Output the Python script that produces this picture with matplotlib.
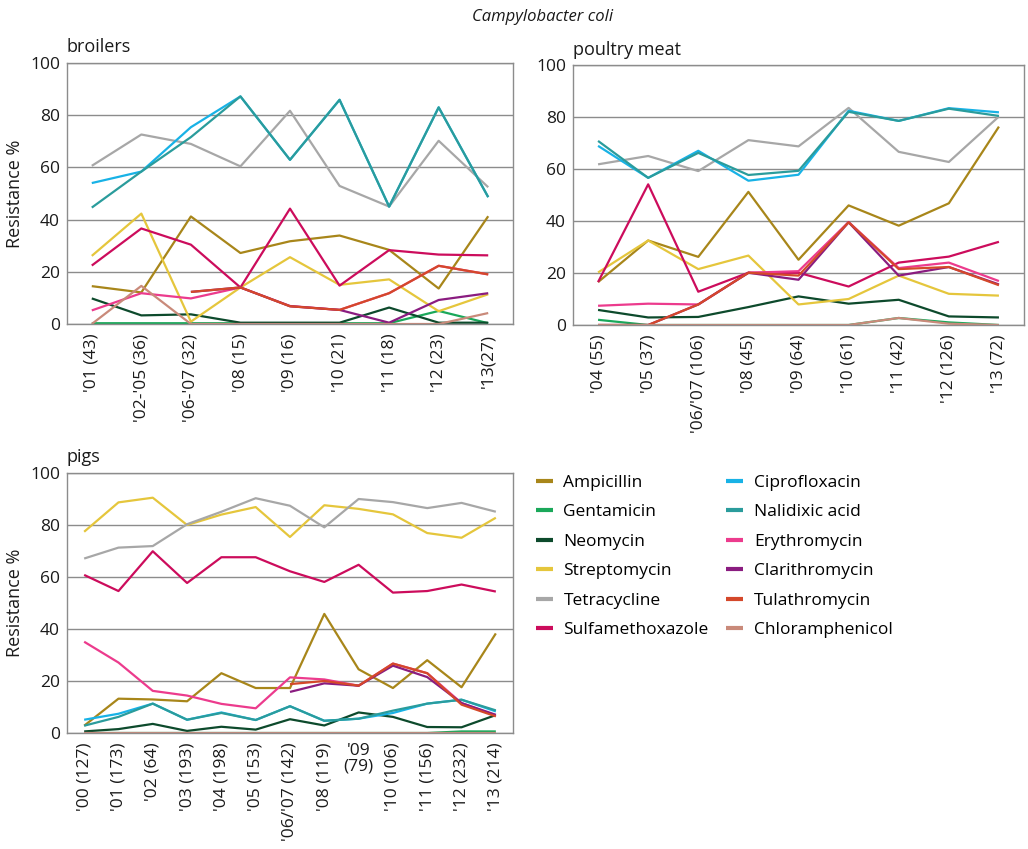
import numpy as np
import matplotlib
matplotlib.use("Agg")
import matplotlib.pyplot as plt

plt.rcParams['font.family'] = ['Open Sans', 'DejaVu Sans']

nan = np.nan

antibiotics = ['Ampicillin', 'Gentamicin', 'Neomycin', 'Streptomycin', 'Tetracycline',
               'Sulfamethoxazole', 'Ciprofloxacin', 'Nalidixic acid', 'Erythromycin',
               'Clarithromycin', 'Tulathromycin', 'Chloramphenicol']
colors = ['#a8861a', '#1aa85a', '#0d4a2c', '#e5c63c', '#a7a7a7', '#cc0c5c',
          '#18b2e6', '#2a9c9c', '#ec3b8d', '#8a1c80', '#d4482a', '#c98a7a']

# broilers
broiler_labels = ["'01 (43)", "'02-'05 (36)", "'06-'07 (32)", "'08 (15)", "'09 (16)",
                  "'10 (21)", "'11 (18)", "'12 (23)", "'13(27)"]
broilers = {
    'Ampicillin':       [14.5, 12.1, 41.2, 27.2, 31.7, 33.9, 28.4, 13.6, 41.3],
    'Gentamicin':       [0.3, 0.3, 0.3, 0.3, 0.3, 0.3, 0.3, 5.0, 0.3],
    'Neomycin':         [9.8, 3.3, 3.7, 0.5, 0.5, 0.5, 6.3, 0.5, 0.5],
    'Streptomycin':     [26.1, 42.3, 0.9, 14.0, 25.6, 15.0, 17.1, 4.9, 11.4],
    'Tetracycline':     [60.6, 72.6, 69.0, 60.4, 81.7, 52.9, 45.0, 70.2, 52.4],
    'Sulfamethoxazole': [22.4, 36.6, 30.4, 14.0, 44.2, 14.7, 28.3, 26.6, 26.3],
    'Ciprofloxacin':    [54.0, 58.4, 75.4, 87.2, 62.9, 85.9, 45.0, 83.0, 48.6],
    'Nalidixic acid':   [44.6, 58.4, 71.6, 87.2, 62.9, 85.9, 45.0, 83.0, 48.6],
    'Erythromycin':     [5.2, 11.8, 9.8, 14.0, 6.9, 5.4, 11.8, 22.3, 19.0],
    'Clarithromycin':   [nan, nan, 12.3, 14.0, 6.8, 5.4, 0.5, 9.2, 11.8],
    'Tulathromycin':    [nan, nan, 12.3, 14.0, 6.8, 5.4, 11.8, 22.3, 19.0],
    'Chloramphenicol':  [0.0, 14.6, 0.0, 0.0, 0.0, 0.0, 0.0, 0.0, 4.2],
}

# poultry meat
poultry_labels = ["'04 (55)", "'05 (37)", "'06/'07 (106)", "'08 (45)", "'09 (64)",
                  "'10 (61)", "'11 (42)", "'12 (126)", "'13 (72)"]
poultry = {
    'Ampicillin':       [16.5, 32.5, 26.2, 51.2, 25.1, 46.0, 38.2, 46.8, 76.3],
    'Gentamicin':       [2.0, 0.0, 0.0, 0.0, 0.0, 0.0, 2.7, 1.0, 0.0],
    'Neomycin':         [5.8, 2.9, 3.1, 6.9, 11.0, 8.2, 9.7, 3.3, 2.9],
    'Streptomycin':     [20.2, 32.5, 21.5, 26.7, 7.9, 10.0, 19.0, 12.0, 11.3],
    'Tetracycline':     [61.8, 65.0, 59.2, 71.1, 68.7, 83.5, 66.6, 62.7, 80.2],
    'Sulfamethoxazole': [16.5, 54.1, 12.8, 20.1, 20.1, 14.8, 24.0, 26.3, 32.0],
    'Ciprofloxacin':    [68.9, 56.6, 67.0, 55.5, 57.8, 82.4, 78.5, 83.4, 81.8],
    'Nalidixic acid':   [70.8, 56.6, 66.2, 57.7, 59.3, 82.0, 78.5, 83.2, 80.4],
    'Erythromycin':     [7.4, 8.2, 7.9, 20.1, 20.7, 39.6, 21.9, 24.0, 16.9],
    'Clarithromycin':   [0.0, 0.0, 7.9, 20.1, 17.4, 39.5, 19.0, 22.3, 15.6],
    'Tulathromycin':    [0.0, 0.0, 7.9, 20.1, 19.0, 39.5, 21.5, 22.3, 15.3],
    'Chloramphenicol':  [0.0, 0.0, 0.0, 0.0, 0.0, 0.0, 2.7, 0.5, 0.0],
}

# pigs
pig_labels = ["'00 (127)", "'01 (173)", "'02 (64)", "'03 (193)", "'04 (198)", "'05 (153)",
              "'06/'07 (142)", "'08 (119)", "'09\n(79)", "'10 (106)", "'11 (156)",
              "'12 (232)", "'13 (214)"]
pigs = {
    'Ampicillin':       [2.8, 13.2, 12.9, 12.2, 23.0, 17.3, 17.3, 45.8, 24.5, 17.3, 28.0, 17.6, 38.3],
    'Gentamicin':       [0.0, 0.0, 0.0, 0.0, 0.0, 0.0, 0.0, 0.0, 0.0, 0.0, 0.0, 0.6, 0.6],
    'Neomycin':         [0.6, 1.5, 3.5, 0.8, 2.4, 1.3, 5.3, 2.9, 7.9, 6.2, 2.3, 2.2, 6.9],
    'Streptomycin':     [77.4, 88.7, 90.5, 80.0, 84.0, 86.9, 75.4, 87.6, 86.2, 84.1, 76.9, 75.1, 82.8],
    'Tetracycline':     [67.1, 71.3, 71.9, 80.3, 85.1, 90.3, 87.4, 79.1, 90.0, 88.8, 86.5, 88.5, 85.1],
    'Sulfamethoxazole': [60.8, 54.6, 69.9, 57.7, 67.6, 67.6, 62.2, 58.1, 64.7, 54.0, 54.6, 57.1, 54.4],
    'Ciprofloxacin':    [5.1, 7.4, 11.3, 5.1, 7.9, 5.0, 10.3, 4.7, 5.5, 7.7, 11.3, 12.8, 8.3],
    'Nalidixic acid':   [2.8, 6.2, 11.3, 5.1, 7.7, 5.0, 10.3, 4.7, 5.5, 8.6, 11.3, 12.8, 8.7],
    'Erythromycin':     [35.1, 27.1, 16.2, 14.4, 11.2, 9.5, 21.4, 20.6, 18.2, 26.7, 23.0, 11.5, 6.7],
    'Clarithromycin':   [nan, nan, nan, nan, nan, nan, 15.8, 19.1, 18.2, 25.9, 21.5, 11.5, 7.0],
    'Tulathromycin':    [nan, nan, nan, nan, nan, nan, 18.8, 20.0, 18.2, 26.7, 23.0, 10.9, 6.4],
    'Chloramphenicol':  [0.0] * 13,
}

fig = plt.figure(figsize=(10.28, 8.49), dpi=100)
W, H = 1028, 849


def panel(x0, x1, ytop, ybot):
    return fig.add_axes([x0 / W, 1 - ybot / H, (x1 - x0) / W, (ybot - ytop) / H])


def draw(ax, labels, data, title, ylabel=True):
    x = np.arange(len(labels))
    for name, col in zip(antibiotics, colors):
        ax.plot(x, data[name], color=col, lw=1.6, label=name, solid_capstyle='butt')
    ax.set_xlim(-0.5, len(labels) - 0.5)
    ax.set_ylim(0, 100)
    ax.set_yticks([0, 20, 40, 60, 80, 100])
    ax.yaxis.grid(True, color='#8c8c8c', lw=1.0)
    ax.set_axisbelow(True)
    ax.set_xticks(x)
    ax.set_xticklabels(labels, rotation=90, va='top', ha='center')
    ax.tick_params(axis='both', length=0, labelsize=12.5, colors='#1a1a1a')
    ax.tick_params(axis='y', pad=5)
    ax.tick_params(axis='x', pad=7)
    for sp in ax.spines.values():
        sp.set_color('#8c8c8c')
        sp.set_linewidth(1.0)
    ax.text(0.0, 1.025, title, transform=ax.transAxes, fontsize=13, ha='left', va='bottom',
            color='#1a1a1a')
    if ylabel:
        ax.set_ylabel('Resistance %', fontsize=13, color='#1a1a1a', labelpad=4)


ax1 = panel(67, 513, 63, 324)
draw(ax1, broiler_labels, broilers, 'broilers')

ax2 = panel(573, 1024, 65, 325)
draw(ax2, poultry_labels, poultry, 'poultry meat', ylabel=False)

ax3 = panel(67, 513, 473, 733)
draw(ax3, pig_labels, pigs, 'pigs')
# the '09 label is horizontal in two lines
for t in ax3.get_xticklabels():
    if t.get_text().startswith("'09"):
        t.set_rotation(0)
        t.set_linespacing(1.0)

fig.text(543 / W, 1 - 17 / H, 'Campylobacter coli', style='italic', fontsize=12,
         ha='center', va='center', color='#1a1a1a')

handles, labs = ax1.get_legend_handles_labels()
leg = fig.legend(handles, labs, ncol=2, loc='upper left', bbox_to_anchor=(520 / W, 1 - 459 / H),
                 frameon=False, fontsize=12.5, handlelength=1.0, handletextpad=0.6,
                 labelspacing=0.77, columnspacing=1.0)
for line in leg.get_lines():
    line.set_linewidth(3.0)

fig.savefig('out.png', dpi=100)
